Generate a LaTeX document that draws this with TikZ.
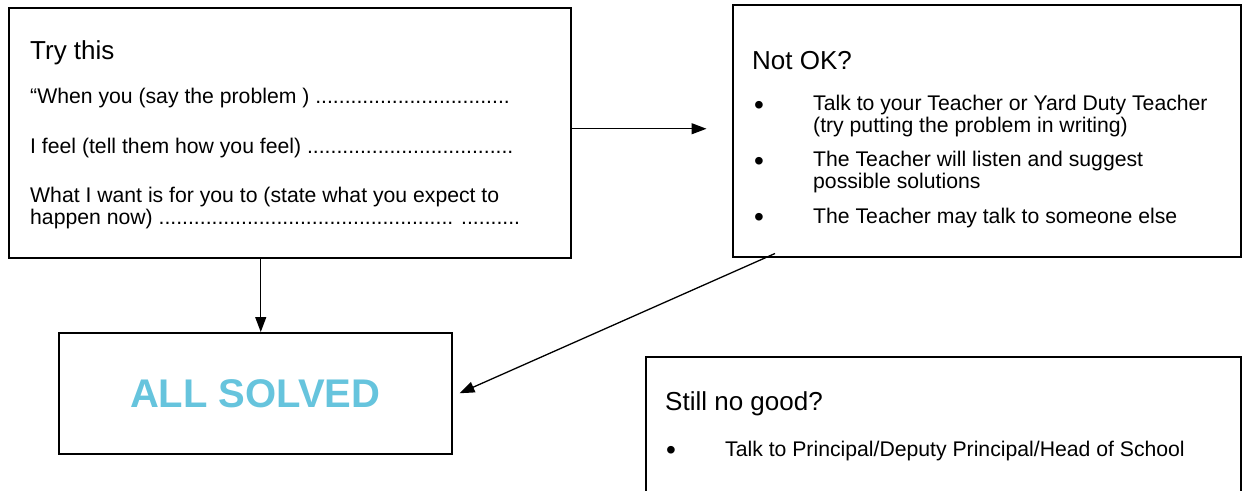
\documentclass[tikz,border=0pt]{standalone}
\usepackage{fontspec}
\setmainfont{Liberation Sans}
\usepackage{xcolor}
\usepackage{tikz}
\usetikzlibrary{positioning, arrows.meta, calc}
\definecolor{solvedblue}{RGB}{102,196,221}
\tikzset{
    panel/.style={draw=black, line width=1.5pt, anchor=north west, inner sep=0pt},
    title/.style={anchor=base west, inner sep=0pt, font=\fontsize{26}{30}\selectfont},
    body/.style={anchor=base west, inner sep=0pt, align=left, font=\fontsize{21.2}{21.5}\selectfont},
    dotmark/.style={anchor=base, inner sep=0pt, yshift=-3pt, font=\fontsize{28}{28}\selectfont},
    flow/.style={-{Triangle[length=15pt, width=11pt]}, line width=1.3pt}
}
\begin{document}
\begin{tikzpicture}[x=1pt, y=-1pt]
    \useasboundingbox (0,0) rectangle (1242,490);
    \clip (0,0) rectangle (1242,490);

    % frames
    \foreach \name/\xa/\ya/\w/\h in {
        try/8/7/562/250,
        notok/732/4/508/252,
        solved/58/332/393/121,
        still/645/356/595/160}{
        \node[panel, minimum width=\w pt, minimum height=\h pt] (\name) at (\xa,\ya) {};
    }

    % try this
    \node[title] (trytitle) at (30,59) {Try this};
    \node[body] (when) at (30,103) {“When you (say the problem ) .................................};
    \node[body] (feel) at (30,153) {I feel (tell them how you feel) ...................................};
    \node[body] (want) at (30,224) {What I want is for you to (state what you expect to\\happen now) .................................................. ..........};

    % not ok
    \node[title] (notoktitle) at (752,69) {Not OK?};
    \foreach \i/\ya/\yb/\item in {
        1/111/132/{Talk to your Teacher or Yard Duty Teacher\\(try putting the problem in writing)},
        2/167/188/{The Teacher will listen and suggest\\possible solutions},
        3/223/223/{The Teacher may talk to someone else}}{
        \node[dotmark] (dot\i) at (759,\ya) {•};
        \node[body] (item\i) at (813,\yb) {\item};
    }

    % all solved
    \node[font=\fontsize{40}{44}\selectfont\bfseries, text=solvedblue] (solvedtext) at (solved.center) {ALL SOLVED};

    % still no good
    \node[title] (stilltitle) at (665,410) {Still no good?};
    \node[dotmark] (dot4) at (671,456) {•};
    \node[body] (item4) at (725,456) {Talk to Principal/Deputy Principal/Head of School};

    % connectors
    \coordinate (rightend) at ($(try.east)+(135pt,4pt)$);
    \draw[flow] ([yshift=4pt]try.east) -- (rightend);
    \draw[flow] ([xshift=-29pt]try.south) -- ([xshift=5.5pt]solved.north);
    \coordinate (diagend) at ([xshift=7pt]solved.east);
    \draw[flow] ([shift={(43pt,4pt)}]notok.south west) -- (diagend);
\end{tikzpicture}
\end{document}
